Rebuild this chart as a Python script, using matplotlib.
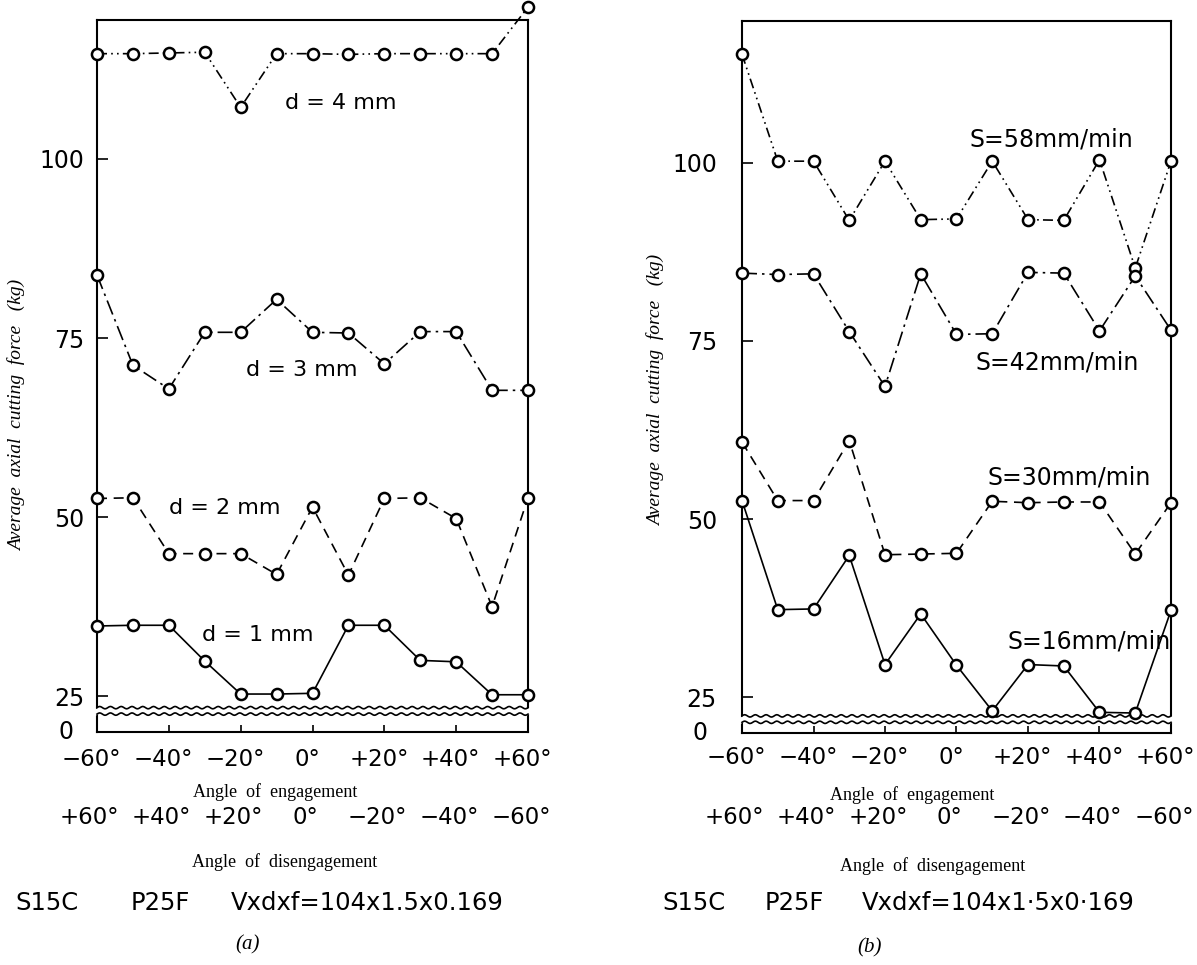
import numpy as np
import matplotlib.pyplot as plt
from matplotlib.transforms import blended_transform_factory

# angle of engagement (deg)
angles = [-60, -50, -40, -30, -20, -10, 0, 10, 20, 30, 40, 50, 60]
eng_ticks = [-60, -40, -20, 0, 20, 40, 60]
eng_labels = ['\u221260\u00b0', '\u221240\u00b0', '\u221220\u00b0', '0\u00b0', '+20\u00b0', '+40\u00b0', '+60\u00b0']
dis_labels = ['+60\u00b0', '+40\u00b0', '+20\u00b0', '0\u00b0', '\u221220\u00b0', '\u221240\u00b0', '\u221260\u00b0']
y_ticks = [25, 50, 75, 100]

# (a) depth of cut d, kg
d4 = [114.7, 114.7, 114.8, 114.9, 107.2, 114.7, 114.7, 114.6, 114.7, 114.7, 114.7, 114.7, 121.2]
d3 = [83.8, 71.2, 67.9, 75.8, 75.8, 80.4, 75.8, 75.7, 71.4, 75.9, 75.9, 67.7, 67.7]
d2 = [52.6, 52.7, 44.9, 44.9, 44.9, 42.0, 51.4, 41.9, 52.6, 52.7, 49.8, 37.5, 52.7]
d1 = [34.8, 34.9, 34.9, 29.9, 25.3, 25.3, 25.4, 34.9, 34.9, 30.0, 29.8, 25.2, 25.2]
labels_a = ['d = 4 mm', 'd = 3 mm', 'd = 2 mm', 'd = 1 mm']

# (b) feed S, kg
s58 = [115.2, 100.2, 100.2, 91.9, 100.2, 92.0, 92.1, 100.2, 92.0, 91.9, 100.4, 85.2, 100.2]
s42 = [84.5, 84.3, 84.4, 76.3, 68.6, 84.4, 75.9, 76.0, 84.6, 84.5, 76.4, 84.1, 76.5]
s30 = [60.8, 52.6, 52.6, 61.0, 45.0, 45.1, 45.2, 52.5, 52.3, 52.4, 52.4, 45.1, 52.3]
s16 = [52.6, 37.3, 37.4, 44.9, 29.6, 36.7, 29.5, 23.1, 29.6, 29.4, 22.9, 22.8, 37.2]
labels_b = ['S=58mm/min', 'S=42mm/min', 'S=30mm/min', 'S=16mm/min']

W, H = 1197, 965
fig = plt.figure(figsize=(W / 100, H / 100), dpi=100)

styles = [(0, (6, 2.5, 1, 2.5, 1, 2.5)), (0, (9, 3, 1.5, 3)), (0, (6, 4)), '-']
sans = 'DejaVu Sans'
serif = 'Liberation Serif'


def ftxt(px, py, s, **kw):
    fig.text(px / W, 1 - py / H, s, **kw)


def panel(rect, ytop, series, names, label_pos, waves, tick_y):
    ax = fig.add_axes(rect)
    for vals, ls in zip(series, styles):
        ax.plot(angles, vals, color='black', lw=1.2, linestyle=ls, marker='o',
                ms=8, mfc='white', mec='black', mew=1.8, clip_on=False, zorder=5)
    for name, (x, y) in zip(names, label_pos):
        ax.text(x, y, name, fontsize=17 if name.startswith('S') else 16,
                family=sans, ha='left', va='center')
    ax.set_xlim(-60, 60)
    ax.set_ylim(20, ytop)
    for sp in ax.spines.values():
        sp.set_linewidth(1.5)
    ax.set_xticks(eng_ticks, [''] * len(eng_ticks))
    ax.set_yticks(y_ticks, [str(v) for v in y_ticks])
    ax.tick_params(axis='x', direction='in', length=5, width=1.2)
    ax.tick_params(axis='y', direction='in', length=8, width=1.2, labelsize=17)
    for t in ax.get_yticklabels():
        t.set_family(sans)
    tr = blended_transform_factory(ax.transData, fig.transFigure)
    # engagement angle labels (primary) and disengagement angle labels (secondary)
    for x, lab in zip(eng_ticks, eng_labels):
        ax.text(x - 1.5, 1 - tick_y / H, lab, transform=tr, ha='center', va='center',
                fontsize=16.5, family=sans)
    for x, lab in zip(eng_ticks, dis_labels):
        ax.text(x - 2, 1 - 818 / H, lab, transform=tr, ha='center', va='center',
                fontsize=16.5, family=sans)
    # broken axis: two wavy lines near the bottom
    y_hi, y_lo = waves
    wx = np.linspace(-60, 60, 800)
    fx = np.linspace(-61.5, 61.5, 820)
    ax.fill_between(fx, y_lo + 0.16 * np.sin(2 * np.pi * fx / 3.0),
                    y_hi + 0.16 * np.sin(2 * np.pi * fx / 3.0),
                    color='white', lw=0, zorder=3, clip_on=False)
    for yy in (y_hi, y_lo):
        ax.plot(wx, yy + 0.16 * np.sin(2 * np.pi * wx / 3.0), color='black',
                lw=1.2, zorder=4, clip_on=False)
    return ax


ax_a = panel([97 / W, 1 - 732 / H, 431 / W, 712 / H], 119.4,
             [d4, d3, d2, d1], labels_a,
             [(-7.7, 107.8), (-18.5, 70.5), (-40.0, 51.3), (-30.8, 33.5)],
             (23.4, 22.5), 760)
ax_a.tick_params(axis='y', pad=9)
ax_a.annotate('0', xy=(0, 20), xycoords=('axes fraction', 'data'), xytext=(-24, 0),
              textcoords='offset pixels', ha='right', va='center', fontsize=17, family=sans)

ax_b = panel([742 / W, 1 - 733 / H, 429 / W, 712 / H], 119.86,
             [s58, s42, s30, s16], labels_b,
             [(3.5, 103.2), (5.2, 72.0), (8.8, 55.9), (14.4, 32.8)],
             (22.4, 21.5), 758)
ax_b.tick_params(axis='y', pad=18)
ax_b.annotate('0', xy=(0, 20), xycoords=('axes fraction', 'data'), xytext=(-34, 0),
              textcoords='offset pixels', ha='right', va='center', fontsize=17, family=sans)

ylab = 'Average  axial  cutting  force   (kg)'
ftxt(17, 415, ylab, rotation=90, ha='center', va='center', fontsize=14,
     family=serif, style='italic')
ftxt(656, 390, ylab, rotation=90, ha='center', va='center', fontsize=14,
     family=serif, style='italic')

ftxt(275, 792, 'Angle  of  engagement', ha='center', va='center', fontsize=13, family=serif)
ftxt(912, 795, 'Angle  of  engagement', ha='center', va='center', fontsize=13, family=serif)
ftxt(285, 862, 'Angle  of  disengagement', ha='center', va='center', fontsize=13, family=serif)
ftxt(933, 866, 'Angle  of  disengagement', ha='center', va='center', fontsize=13, family=serif)

for x, s in zip([15, 131, 231], ['S15C', 'P25F', 'Vxdxf=104x1.5x0.169']):
    ftxt(x, 903, s, ha='left', va='center', fontsize=17.5, family=sans)
for x, s in zip([662, 765, 862], ['S15C', 'P25F', 'Vxdxf=104x1\u00b75x0\u00b7169']):
    ftxt(x, 903, s, ha='left', va='center', fontsize=17.5, family=sans)

ftxt(248, 945, '(a)', ha='center', va='center', fontsize=15, family=serif, style='italic')
ftxt(870, 948, '(b)', ha='center', va='center', fontsize=15, family=serif, style='italic')

fig.savefig('out.png', dpi=100, facecolor='white')
